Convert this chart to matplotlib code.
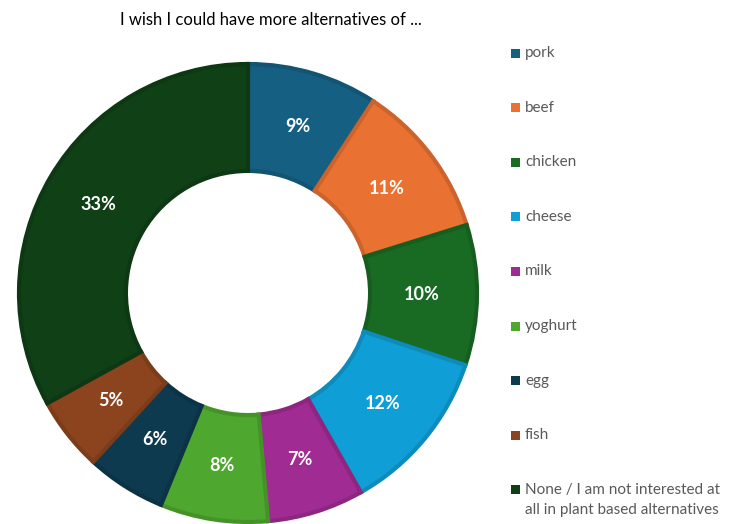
import matplotlib.pyplot as plt
from matplotlib.colors import to_rgb
from matplotlib.patches import Rectangle

labels = ['pork', 'beef', 'chicken', 'cheese', 'milk', 'yoghurt', 'egg', 'fish',
          'None / I am not interested at\nall in plant based alternatives']
# shares in %
values = [9.2, 11.0, 9.9, 11.7, 6.8, 7.6, 5.6, 5.2, 33.0]
colors = ['#156082', '#E97132', '#196B24', '#0F9ED5', '#A02B93', '#4EA72E',
          '#0D3A4E', '#8C441E', '#0F4016']

plt.rcParams['font.family'] = ['Lato', 'DejaVu Sans']

fig = plt.figure(figsize=(7.44, 5.24), dpi=100)
ax = fig.add_axes([19 / 744, 2 / 524, 458 / 744, 458 / 524])

edge = [tuple(c * 0.88 for c in to_rgb(col)) for col in colors]
wedges, texts, autotexts = ax.pie(
    values, colors=colors, startangle=90, counterclock=False, radius=1,
    wedgeprops=dict(width=0.467, linewidth=3),
    autopct='%.0f%%', pctdistance=0.76,
    textprops=dict(color='white', fontsize=13, fontweight='bold'))
for w, e in zip(wedges, edge):
    w.set_edgecolor(e)
ax.set_xlim(-1.0, 1.0)
ax.set_ylim(-1.0, 1.0)
ax.set_aspect('equal')
ax.axis('off')

fig.text(120 / 744, 1 - 20 / 524, 'I wish I could have more alternatives of ...',
         fontsize=12, color='black', va='center', ha='left')

y0, step = 53, 54.6
for i, (lab, col) in enumerate(zip(labels, colors)):
    y = y0 + i * step
    fig.patches.append(Rectangle((511 / 744, 1 - (y + 4.5) / 524), 9 / 744, 9 / 524,
                                 transform=fig.transFigure, facecolor=col,
                                 edgecolor='none'))
    fig.text(525 / 744, 1 - (y - 7) / 524, lab, fontsize=11, color='#595959',
             va='top', ha='left', linespacing=1.55)

fig.savefig('out.png', dpi=100)
